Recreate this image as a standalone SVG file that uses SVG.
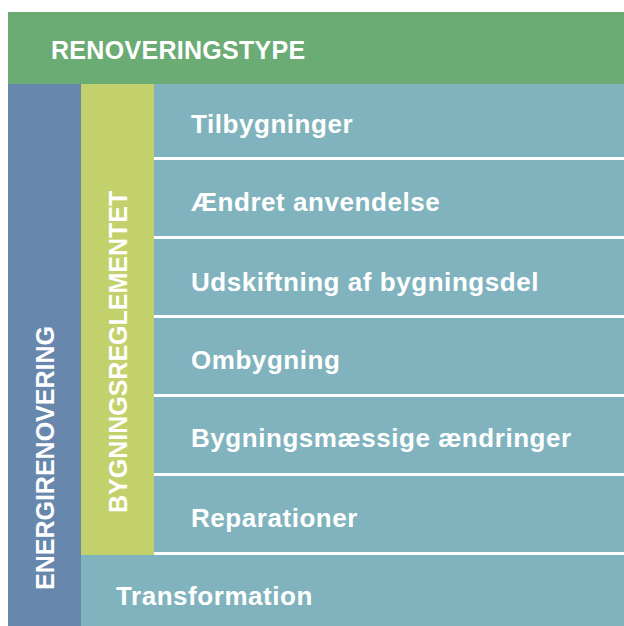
<svg xmlns="http://www.w3.org/2000/svg" width="624" height="626" viewBox="0 0 624 626">
  <style>
    .lbl { font-family: "Liberation Sans", Arial, Helvetica, sans-serif; font-weight: bold; fill: #ffffff; }
    .head { font-size: 25px; }
    .item { font-size: 26px; letter-spacing: 0.55px; }
    .row { fill: #80B3BD; }
    .sep { fill: #ffffff; }
  </style>
  <rect x="0" y="0" width="624" height="626" fill="#ffffff"/>

  <g id="header">
    <rect x="8" y="12" width="616" height="72" fill="#6BAB74"/>
    <text class="lbl head" x="51" y="59.3" letter-spacing="0.3">RENOVERINGSTYPE</text>
  </g>

  <g id="energirenovering">
    <rect x="8" y="84" width="73" height="542" fill="#6787AD"/>
    <text class="lbl head" transform="translate(53.5,590) rotate(-90)" x="0" y="0">ENERGIRENOVERING</text>
  </g>

  <g id="bygningsreglementet">
    <rect x="81" y="84" width="73" height="471" fill="#C2D16B"/>
    <text class="lbl head" transform="translate(126.5,513) rotate(-90)" x="0" y="0">BYGNINGSREGLEMENTET</text>
  </g>

  <g id="tilbygninger">
    <rect class="row" x="154" y="84" width="470" height="73"/>
    <text class="lbl item" x="191" y="133.3">Tilbygninger</text>
  </g>
  <g id="aendret-anvendelse">
    <rect class="row" x="154" y="160" width="470" height="76"/>
    <text class="lbl item" x="191" y="211">Ændret anvendelse</text>
  </g>
  <g id="udskiftning">
    <rect class="row" x="154" y="239" width="470" height="76"/>
    <text class="lbl item" x="191" y="290.5">Udskiftning af bygningsdel</text>
  </g>
  <g id="ombygning">
    <rect class="row" x="154" y="318" width="470" height="76"/>
    <text class="lbl item" x="191" y="369">Ombygning</text>
  </g>
  <g id="bygningsmaessige">
    <rect class="row" x="154" y="397" width="470" height="76"/>
    <text class="lbl item" x="191" y="447">Bygningsmæssige ændringer</text>
  </g>
  <g id="reparationer">
    <rect class="row" x="154" y="476" width="470" height="76"/>
    <text class="lbl item" x="191" y="527">Reparationer</text>
  </g>
  <g id="transformation">
    <rect class="row" x="81" y="555" width="543" height="71"/>
    <text class="lbl item" x="116" y="605.3">Transformation</text>
  </g>

  <g id="connectors">
    <rect class="sep" x="154" y="157" width="470" height="3"/>
    <rect class="sep" x="154" y="236" width="470" height="3"/>
    <rect class="sep" x="154" y="315" width="470" height="3"/>
    <rect class="sep" x="154" y="394" width="470" height="3"/>
    <rect class="sep" x="154" y="473" width="470" height="3"/>
    <rect class="sep" x="154" y="552" width="470" height="3"/>
  </g>
</svg>
